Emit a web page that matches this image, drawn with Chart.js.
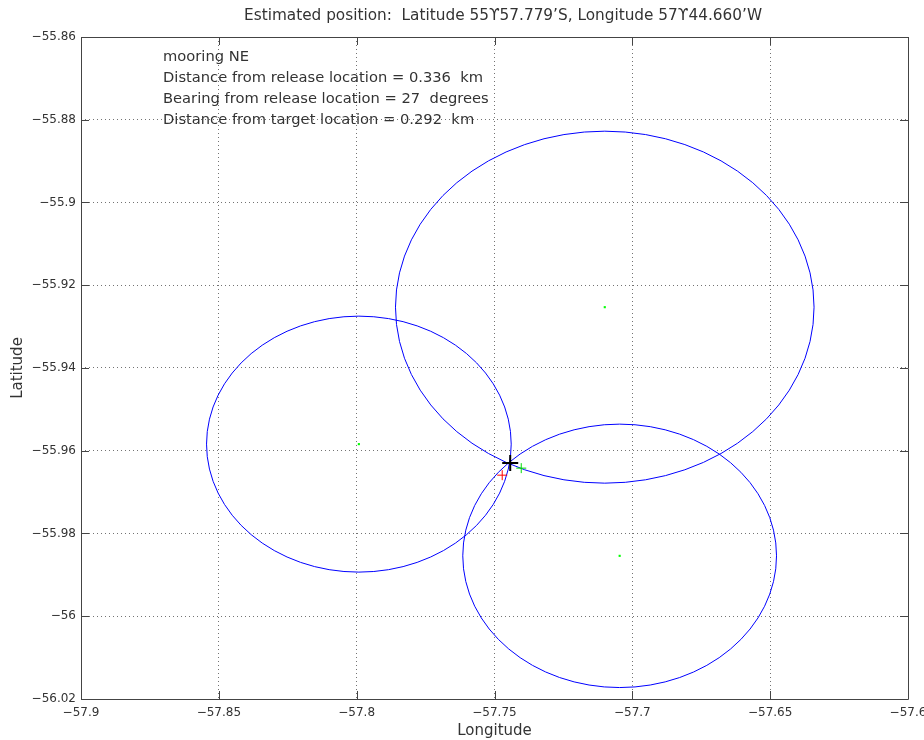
<!DOCTYPE html>
<html>
<head>
<meta charset="utf-8">
<script src="https://cdn.jsdelivr.net/npm/chart.js@4/dist/chart.umd.min.js"></script>
<style>
  html, body { margin: 0; padding: 0; background: #fff; }
  #wrap { width: 924px; height: 740px; }
</style>
</head>
<body>
<div id="wrap"><canvas id="chart" width="924" height="740"></canvas></div>
<script>
// transponder positions (ellipse centres) and slant ranges
const ringLon = [-57.7992, -57.7100, -57.7046];
const ringLat = [-55.9584, -55.9253, -55.9854];
const ringKm = [3.44, 4.73, 3.54];

const releaseLon = [-57.7472];
const releaseLat = [-55.9659];
const targetLon = [-57.7403];
const targetLat = [-55.9642];
const estLon = [-57.7443];
const estLat = [-55.96298];

const xTicks = [-57.9, -57.85, -57.8, -57.75, -57.7, -57.65, -57.6];
const yTicks = [-55.86, -55.88, -55.9, -55.92, -55.94, -55.96, -55.98, -56, -56.02];

const titleText = 'Estimated position:  Latitude 55\u03D257.779\u2019S, Longitude 57\u03D244.660\u2019W';
const noteLines = [
    'mooring NE',
    'Distance from release location = 0.336  km',
    'Bearing from release location = 27  degrees',
    'Distance from target location = 0.292  km'
];

const KM_PER_DEG = 111.2;
const textColor = '#333';

function pts(lons, lats) {
    return lons.map((x, i) => ({ x: x, y: lats[i] }));
}

function fmt(v) {
    const s = String(Number(v.toFixed(2)));
    return s.replace('-', '\u2212');
}

// range circles drawn as ellipses in lat/lon space
const ringsPlugin = {
    id: 'rings',
    beforeDatasetsDraw(chart) {
        const { ctx, chartArea, scales: { x, y } } = chart;
        ctx.save();
        ctx.beginPath();
        ctx.rect(chartArea.left, chartArea.top, chartArea.right - chartArea.left, chartArea.bottom - chartArea.top);
        ctx.clip();
        ctx.strokeStyle = '#0000ff';
        ctx.lineWidth = 1;
        ringLon.forEach((lon, i) => {
            const lat = ringLat[i];
            const dLat = ringKm[i] / KM_PER_DEG;
            const dLon = ringKm[i] / (KM_PER_DEG * Math.cos(lat * Math.PI / 180));
            const cx = x.getPixelForValue(lon);
            const cy = y.getPixelForValue(lat);
            const rx = Math.abs(x.getPixelForValue(lon + dLon) - cx);
            const ry = Math.abs(y.getPixelForValue(lat + dLat) - cy);
            ctx.beginPath();
            ctx.ellipse(cx, cy, rx, ry, 0, 0, Math.PI * 2);
            ctx.stroke();
        });
        ctx.restore();
    }
};

// box, inward ticks, title and notes
const framePlugin = {
    id: 'frame',
    afterDraw(chart) {
        const { ctx, chartArea: a, scales: { x, y } } = chart;
        ctx.save();
        ctx.strokeStyle = '#444';
        ctx.lineWidth = 1;
        ctx.beginPath();
        ctx.rect(Math.round(a.left) + 0.5, Math.round(a.top) + 0.5,
            Math.round(a.right - a.left), Math.round(a.bottom - a.top));
        ctx.stroke();
        ctx.beginPath();
        xTicks.forEach(v => {
            const px = Math.round(x.getPixelForValue(v)) + 0.5;
            ctx.moveTo(px, a.bottom); ctx.lineTo(px, a.bottom - 8);
            ctx.moveTo(px, a.top); ctx.lineTo(px, a.top + 8);
        });
        yTicks.forEach(v => {
            const py = Math.round(y.getPixelForValue(v)) + 0.5;
            ctx.moveTo(a.left, py); ctx.lineTo(a.left + 8, py);
            ctx.moveTo(a.right, py); ctx.lineTo(a.right - 8, py);
        });
        ctx.stroke();

        ctx.fillStyle = textColor;
        ctx.font = '15.3px "DejaVu Sans"';
        ctx.textAlign = 'center';
        ctx.textBaseline = 'middle';
        ctx.fillText(titleText, 503, 16);

        ctx.font = '14.7px "DejaVu Sans"';
        ctx.textAlign = 'left';
        noteLines.forEach((t, i) => {
            ctx.fillText(t, 163, 57 + i * 21);
        });
        ctx.restore();
    }
};

new Chart(document.getElementById('chart'), {
    type: 'scatter',
    data: {
        datasets: [{
            label: 'transponders',
            data: pts(ringLon, ringLat),
            pointStyle: 'rect',
            pointRadius: 1.5,
            backgroundColor: '#00ff00',
            borderColor: '#00ff00',
            borderWidth: 0
        }, {
            label: 'release',
            data: pts(releaseLon, releaseLat),
            pointStyle: 'cross',
            pointRadius: 5,
            borderColor: '#ff0000',
            borderWidth: 1
        }, {
            label: 'target',
            data: pts(targetLon, targetLat),
            pointStyle: 'cross',
            pointRadius: 5,
            borderColor: '#00dd00',
            borderWidth: 1
        }, {
            label: 'estimate',
            data: pts(estLon, estLat),
            pointStyle: 'cross',
            pointRadius: 8,
            borderColor: '#000000',
            borderWidth: 2
        }]
    },
    plugins: [ringsPlugin, framePlugin],
    options: {
        responsive: false,
        animation: false,
        layout: { padding: { top: 37, right: 16, bottom: 0, left: 0 } },
        plugins: {
            legend: { display: false },
            tooltip: { enabled: false }
        },
        scales: {
            x: {
                type: 'linear',
                min: -57.9,
                max: -57.6,
                afterBuildTicks: s => { s.ticks = xTicks.map(v => ({ value: v })); },
                afterFit: s => { s.height = 41; s.paddingLeft = 0; s.paddingRight = 0; },
                ticks: {
                    color: textColor,
                    font: { family: 'DejaVu Sans', size: 12 },
                    padding: 7,
                    maxRotation: 0,
                    autoSkip: false,
                    callback: v => fmt(v)
                },
                grid: { color: 'rgba(0,0,0,0.55)', drawTicks: false },
                border: { display: false, dash: [1, 3] },
                title: {
                    display: true,
                    text: 'Longitude',
                    color: textColor,
                    font: { family: 'DejaVu Sans', size: 15 },
                    padding: { top: 0, bottom: 0 }
                }
            },
            y: {
                type: 'linear',
                min: -56.02,
                max: -55.86,
                afterBuildTicks: s => { s.ticks = yTicks.map(v => ({ value: v })); },
                afterFit: s => { s.width = 81; s.paddingTop = 0; s.paddingBottom = 0; },
                ticks: {
                    color: textColor,
                    font: { family: 'DejaVu Sans', size: 12 },
                    padding: 5,
                    autoSkip: false,
                    callback: v => fmt(v)
                },
                grid: { color: 'rgba(0,0,0,0.55)', drawTicks: false },
                border: { display: false, dash: [1, 3] },
                title: {
                    display: true,
                    text: 'Latitude',
                    color: textColor,
                    font: { family: 'DejaVu Sans', size: 15 },
                    padding: { top: 9, bottom: 0 }
                }
            }
        }
    }
});
</script>
</body>
</html>
